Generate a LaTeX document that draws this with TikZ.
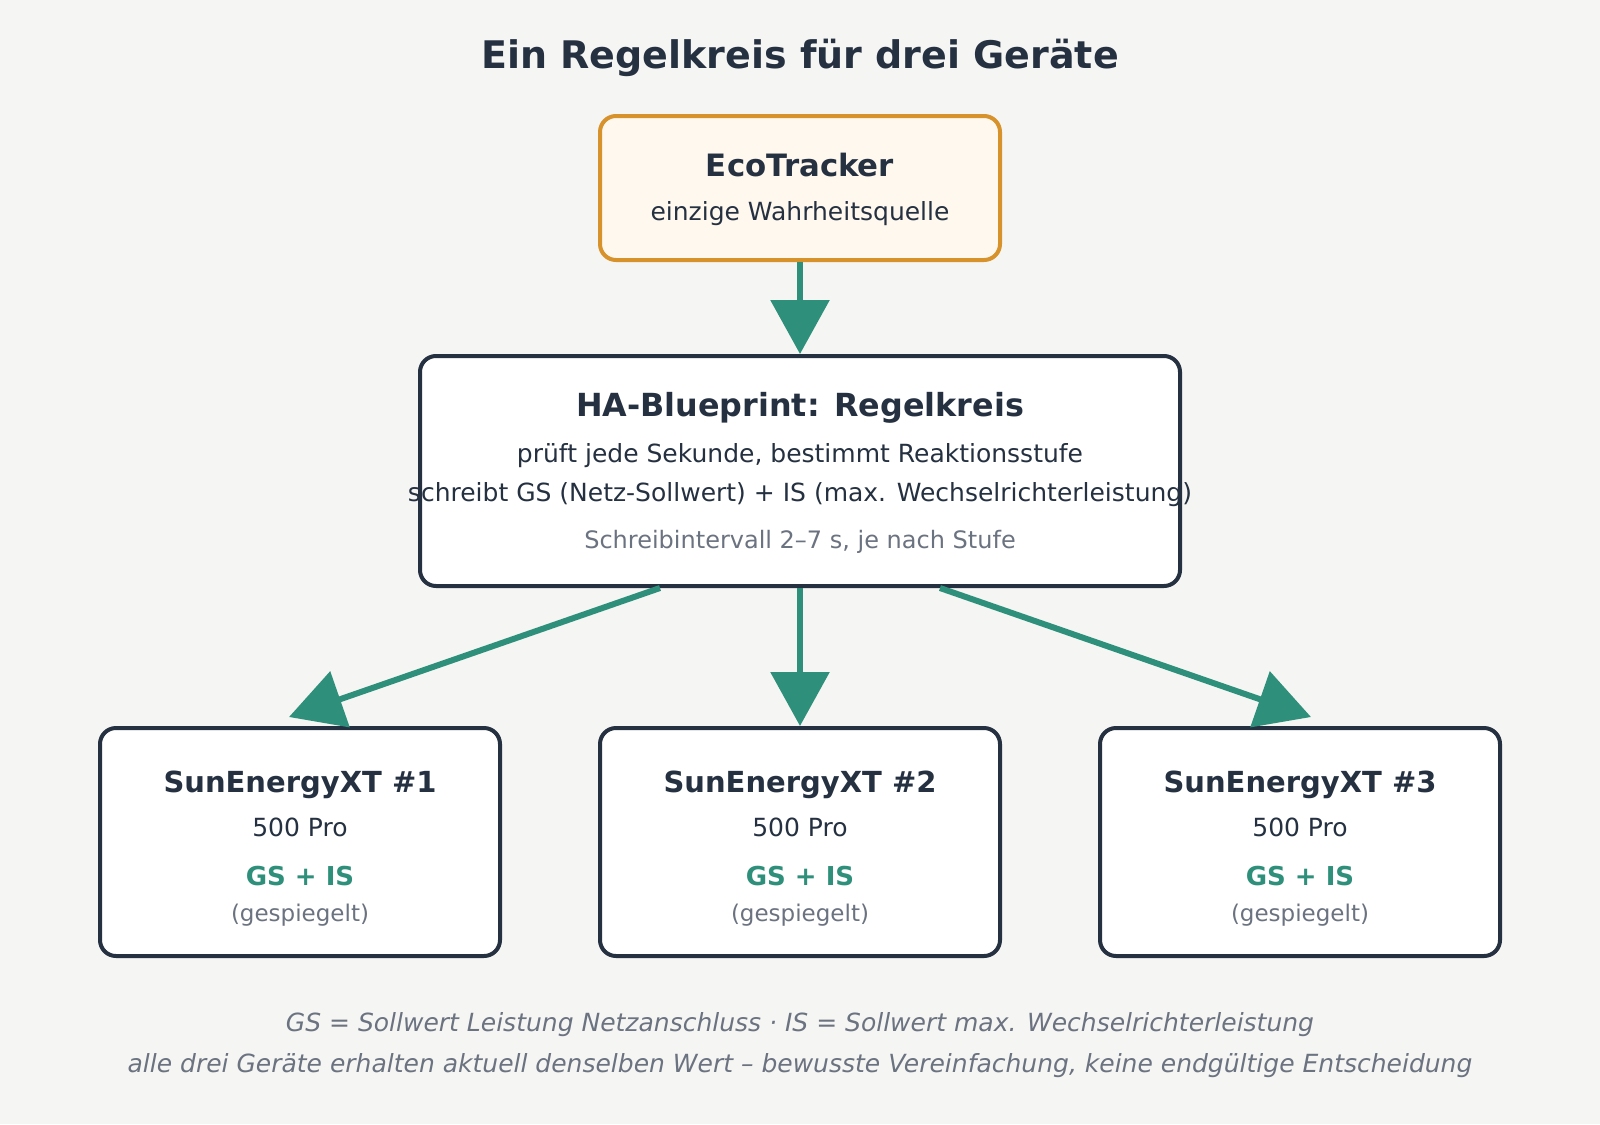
\documentclass[tikz,border=0pt]{standalone}
\usepackage{fontspec}
\setmainfont{DejaVu Sans}
\usetikzlibrary{arrows.meta}
\definecolor{ink}{HTML}{253141}
\definecolor{flowgreen}{HTML}{2E8F7A}
\definecolor{amber}{HTML}{D8922C}
\definecolor{cream}{HTML}{FFF8EE}
\definecolor{muted}{HTML}{6B7280}
\definecolor{paper}{HTML}{F5F5F3}
\newcommand{\fs}[1]{\fontsize{#1}{#1}\selectfont}
\begin{document}
\begin{tikzpicture}[
    x=1pt, y=-1pt,
    card/.style={rectangle, rounded corners=8pt, draw=ink, line width=2pt, fill=white,
        minimum width=200pt, minimum height=114pt, inner sep=0pt},
    source/.style={card, draw=amber, fill=cream, minimum height=72pt},
    flow/.style={draw=flowgreen, line width=3pt, -{Triangle[length=27pt, width=29pt]}},
    txt/.style={anchor=base, inner sep=0pt, text=ink},
    hint/.style={txt, text=muted}
]
% Canvas
\fill[paper] (0,0) rectangle (800,562);
\useasboundingbox (0,0) rectangle (800,562);

\node[txt, font=\fs{19}\bfseries] (title) at (400,34.4) {Ein Regelkreis für drei Geräte};

% Source
\node[source] (eco) at (400,94) {};
\node[txt, font=\fs{15.4}\bfseries] (eco-name) at (400,88.3) {EcoTracker};
\node[txt, font=\fs{12.5}] (eco-sub) at (400,110) {einzige Wahrheitsquelle};

% Controller
\node[card, minimum width=380pt, minimum height=115pt] (ha) at (400,235.5) {};
\node[txt, font=\fs{15.9}\bfseries] (ha-name) at (400,208.2) {HA-Blueprint: Regelkreis};
\node[txt, font=\fs{12.5}] (ha-check) at (400,231.2) {prüft jede Sekunde, bestimmt Reaktionsstufe};
\node[txt, font=\fs{12.5}] (ha-write) at (400,250.7) {schreibt GS (Netz-Sollwert) + IS (max. Wechselrichterleistung)};
\node[hint, font=\fs{12}] (ha-note) at (400,274) {Schreibintervall 2–7 s, je nach Stufe};

% Devices
\foreach \i/\x in {1/150, 2/400, 3/650} {
    \node[card] (sun\i) at (\x,421) {};
    \node[txt, font=\fs{14.5}\bfseries] (sun\i-name) at (\x,396.2) {SunEnergyXT \#\i};
    \node[txt, font=\fs{12.5}] (sun\i-model) at (\x,418) {500 Pro};
    \node[txt, text=flowgreen, font=\fs{13}\bfseries] (sun\i-val) at (\x,442.8) {GS + IS};
    \node[hint, font=\fs{11.5}] (sun\i-mirror) at (\x,460.8) {(gespiegelt)};
}

% Connections
\draw[flow] (eco.south) -- (ha.north);
\draw[flow] ([xshift=-70pt]ha.south) -- ([xshift=-5.5pt, yshift=4.5pt]sun1.north);
\draw[flow] (ha.south) -- (sun2.north);
\draw[flow] ([xshift=70pt]ha.south) -- ([xshift=5.5pt, yshift=4.5pt]sun3.north);

% Legend
\node[hint, font=\fs{12.5}\itshape] (legend1) at (400,515.5) {GS = Sollwert Leistung Netzanschluss · IS = Sollwert max. Wechselrichterleistung};
\node[hint, font=\fs{12.5}\itshape] (legend2) at (400,536) {alle drei Geräte erhalten aktuell denselben Wert – bewusste Vereinfachung, keine endgültige Entscheidung};
\end{tikzpicture}
\end{document}
